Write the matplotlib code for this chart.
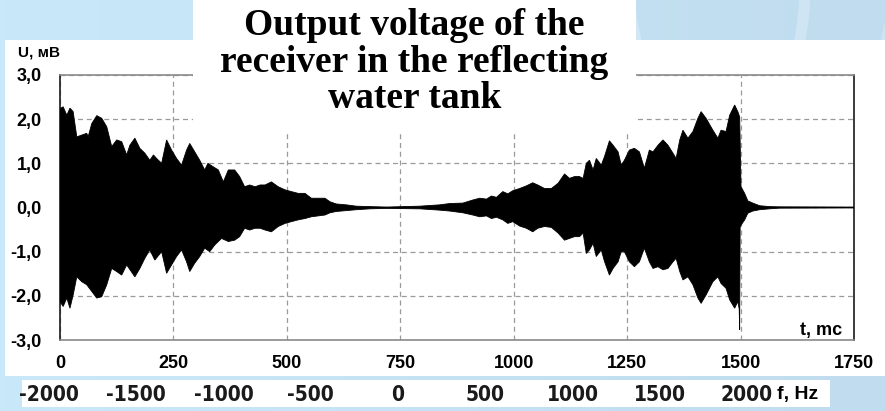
import numpy as np
import matplotlib
matplotlib.use("Agg")
import matplotlib.pyplot as plt
from matplotlib.patches import Rectangle, Ellipse
from matplotlib import font_manager as fm

# ---------------- data ----------------
t_upper = [0, 7, 15, 22, 29, 37, 48, 59, 62, 70, 81, 92, 103, 114, 125, 136, 147, 154, 165, 176,
           187, 198, 206, 213, 224, 235, 246, 257, 268, 279, 286, 297, 308, 319, 326, 338, 349, 360,
           371, 385, 396, 407, 418, 430, 441, 452, 466, 481, 496, 510, 525, 540, 554, 569, 584, 595,
           609, 631, 653, 683, 720, 793, 837, 859, 888, 910, 925, 940, 951, 962, 976, 987, 998, 1013,
           1028, 1042, 1053, 1068, 1083, 1098, 1112, 1123, 1134, 1145, 1153, 1160, 1167, 1175, 1182,
           1193, 1200, 1211, 1219, 1230, 1237, 1244, 1255, 1266, 1277, 1288, 1299, 1307, 1318, 1329,
           1340, 1351, 1358, 1366, 1373, 1384, 1395, 1406, 1413, 1424, 1439, 1450, 1457, 1468, 1476,
           1487, 1494, 1498, 1501, 1509, 1516, 1527, 1542, 1564, 1586, 1750]
u_upper = [2.24, 2.28, 2.09, 2.25, 2.17, 1.60, 1.64, 1.68, 1.60, 1.90, 2.08, 2.02, 1.83, 1.38, 1.53,
           1.49, 1.19, 1.41, 1.57, 1.34, 1.23, 1.07, 1.19, 1.11, 1.00, 1.53, 1.30, 1.11, 0.96, 1.30,
           1.45, 1.26, 1.07, 0.85, 1.00, 0.92, 0.85, 0.58, 0.85, 0.85, 0.70, 0.47, 0.51, 0.47, 0.51,
           0.51, 0.58, 0.47, 0.40, 0.36, 0.32, 0.32, 0.21, 0.21, 0.21, 0.13, 0.08, 0.06, 0.03, 0.02,
           0.01, 0.03, 0.06, 0.09, 0.10, 0.17, 0.21, 0.19, 0.26, 0.23, 0.36, 0.31, 0.38, 0.43, 0.49,
           0.56, 0.51, 0.43, 0.43, 0.55, 0.76, 0.66, 0.70, 0.70, 0.66, 1.00, 1.07, 0.85, 1.11, 0.96,
           1.15, 1.51, 1.41, 1.26, 0.96, 1.07, 1.30, 1.34, 1.26, 0.89, 1.30, 1.26, 1.41, 1.53, 1.41,
           1.23, 1.11, 1.53, 1.75, 1.57, 1.72, 2.02, 2.17, 2.02, 1.75, 1.57, 1.75, 1.72, 2.09, 2.32,
           2.17, 2.05, 0.47, 0.32, 0.15, 0.10, 0.04, 0.02, 0.015, 0.01]

t_lower = [0, 7, 15, 22, 29, 37, 48, 59, 70, 81, 92, 103, 114, 125, 136, 147, 165, 176, 187, 198,
           209, 224, 235, 246, 257, 268, 279, 286, 297, 308, 319, 330, 341, 356, 371, 385, 396, 407,
           418, 430, 441, 452, 466, 481, 496, 510, 525, 540, 554, 569, 584, 595, 609, 631, 653, 683,
           720, 793, 837, 859, 888, 910, 925, 940, 951, 962, 976, 987, 998, 1013, 1028, 1042, 1053,
           1068, 1083, 1098, 1112, 1123, 1134, 1145, 1153, 1160, 1167, 1175, 1182, 1193, 1200, 1211,
           1219, 1230, 1237, 1244, 1255, 1266, 1277, 1288, 1299, 1307, 1318, 1329, 1340, 1351, 1358,
           1366, 1373, 1384, 1395, 1406, 1413, 1424, 1439, 1450, 1457, 1468, 1476, 1487, 1494, 1497,
           1498, 1499, 1501, 1509, 1516, 1527, 1542, 1564, 1586, 1750]
u_lower = [-2.13, -2.24, -2.05, -2.28, -1.98, -1.57, -1.68, -1.75, -1.90, -2.05, -2.02, -1.75, -1.38,
           -1.45, -1.53, -1.30, -1.57, -1.38, -1.15, -0.96, -1.19, -1.00, -1.49, -1.30, -1.11, -0.96,
           -1.23, -1.45, -1.26, -1.11, -0.92, -1.00, -0.85, -0.70, -0.77, -0.74, -0.66, -0.47, -0.51,
           -0.47, -0.47, -0.51, -0.55, -0.43, -0.36, -0.32, -0.28, -0.25, -0.21, -0.19, -0.17, -0.12,
           -0.09, -0.07, -0.05, -0.03, -0.02, -0.03, -0.06, -0.08, -0.12, -0.17, -0.21, -0.19, -0.25,
           -0.22, -0.28, -0.36, -0.32, -0.42, -0.47, -0.55, -0.47, -0.43, -0.45, -0.58, -0.74, -0.70,
           -0.66, -0.66, -0.58, -1.04, -0.96, -0.81, -1.11, -0.96, -1.22, -1.53, -1.38, -1.23, -1.00,
           -1.00, -1.23, -1.34, -1.23, -0.92, -1.23, -1.38, -1.34, -1.41, -1.38, -1.23, -1.15, -1.45,
           -1.64, -1.57, -1.75, -2.05, -2.17, -1.98, -1.68, -1.57, -1.72, -1.83, -2.09, -2.28, -2.13,
           -2.30, -2.77, -0.45, -0.40, -0.28, -0.13, -0.08, -0.05, -0.03, -0.015, -0.01]

x_ticks = [0, 250, 500, 750, 1000, 1250, 1500, 1750]
x_labels = ["0", "250", "500", "750", "1000", "1250", "1500", "1750"]
y_ticks = [-3, -2, -1, 0, 1, 2, 3]
y_labels = ["-3,0", "-2,0", "-1,0", "0,0", "1,0", "2,0", "3,0"]
f_ticks = [-2000, -1500, -1000, -500, 0, 500, 1000, 1500, 2000]
f_labels = ["-2000", "-1500", "-1000", "-500", "0", "500", "1000", "1500", "2000"]

title_lines = ["Output voltage of the", "receiver in the reflecting", "water tank"]

# ---------------- figure ----------------
W, H = 885, 411
fig = plt.figure(figsize=(W / 100, H / 100), dpi=100)

sans = "Liberation Sans"
serif = "Liberation Serif"

# find a condensed / narrow sans font for the frequency labels
narrow_fp = None
for key in ["LiberationSansNarrow-Bold", "DejaVuSansCondensed-Bold", "LiberationSansNarrow-Regular",
            "DejaVuSansCondensed.ttf", "Condensed", "Narrow"]:
    for f in fm.fontManager.ttflist:
        if key in f.fname and "Oblique" not in f.fname and "Italic" not in f.fname:
            narrow_fp = f.fname
            break
    if narrow_fp:
        break


def fx(px):
    return px / W


def fy(py):
    return 1 - py / H


# background gradient
bg = fig.add_axes([0, 0, 1, 1], zorder=-5)
bg.set_axis_off()
c1 = np.array([201, 233, 250]) / 255
c2 = np.array([192, 220, 238]) / 255
g = np.linspace(0, 1, 256)
img = c1[None, None, :] * (1 - g[None, :, None]) + c2[None, None, :] * g[None, :, None]
img = np.repeat(img, 2, axis=0)
bg.imshow(img, aspect="auto", extent=[0, 1, 0, 1])
bg.set_xlim(0, 1)
bg.set_ylim(0, 1)
for cx, w_ in [(0.80, 0.22), (0.86, 0.30)]:
    bg.add_patch(Ellipse((cx, 1.05), w_, 0.9, fill=False, edgecolor="white", alpha=0.25,
                         linewidth=8))

# white panel and strip
fig.add_artist(Rectangle((fx(5), fy(376)), fx(880), 336 / H, transform=fig.transFigure,
                         facecolor="white", edgecolor="none", zorder=-1))
fig.add_artist(Rectangle((fx(22), fy(407)), fx(808), 27 / H, transform=fig.transFigure,
                         facecolor="white", edgecolor="none", zorder=-1))

# main axes
ax = fig.add_axes([fx(60), fy(340), fx(794), 265 / H])
ax.set_facecolor("white")
ax.fill(list(t_upper) + list(t_lower[::-1]), list(u_upper) + list(u_lower[::-1]),
        facecolor="black", edgecolor="black", linewidth=0.6, zorder=3)
ax.set_xlim(0, 1750)
ax.set_ylim(-3, 3)
ax.set_xticks(x_ticks)
ax.set_xticklabels(x_labels)
ax.set_yticks(y_ticks)
ax.set_yticklabels(y_labels)
ax.tick_params(length=0)
ax.tick_params(axis="y", pad=13)
ax.tick_params(axis="x", pad=11)
for lab in ax.get_xticklabels() + ax.get_yticklabels():
    lab.set_fontfamily(sans)
    lab.set_fontweight("bold")
    lab.set_fontsize(13)
ax.grid(True, linestyle=(0, (4, 3)), color="#9a9a9a", linewidth=0.9)
ax.set_axisbelow(True)
for s in ["left", "right"]:
    ax.spines[s].set_color("#1a1a1a")
    ax.spines[s].set_linewidth(1.2)
for s in ["top", "bottom"]:
    ax.spines[s].set_color("#8a8a8a")
    ax.spines[s].set_linewidth(1.2)

ax.text((842 - 60) / 794, (340 - 335) / 265, "t, mc", transform=ax.transAxes, ha="right",
        va="baseline", fontsize=13, fontweight="bold", family=sans, zorder=5)
fig.text(fx(18), fy(52), "U, мВ", ha="left", va="center", fontsize=11, fontweight="bold",
         family=sans)

# frequency strip
fa = fig.add_axes([fx(22), fy(407), fx(808), 27 / H])
fa.set_axis_off()
f0 = -2000 - (49 - 22) / 87.25 * 500
f1 = -2000 + (830 - 49) / 87.25 * 500
fa.set_xlim(f0, f1)
fa.set_ylim(0, 1)
for f, lab in zip(f_ticks, f_labels):
    if narrow_fp:
        fp = fm.FontProperties(fname=narrow_fp, size=15)
    else:
        fp = fm.FontProperties(family=sans, size=14)
    fa.text(f, 0.45, lab, ha="center", va="center", fontproperties=fp, color="#1a1a1a")
fig.text(fx(777), fy(394), "f, Hz", ha="left", va="center", fontsize=14, fontweight="bold",
         family=sans)

# title box
fig.add_artist(Rectangle((fx(193), fy(132)), fx(443), 132 / H, transform=fig.transFigure,
                         facecolor="white", edgecolor="none", zorder=10))
for i, line in enumerate(title_lines):
    fig.text(fx(414.5), fy(35 + 36.5 * i), line, ha="center", va="baseline", fontsize=27,
             fontweight="bold", family=serif, zorder=11)

fig.savefig("out.png", dpi=100)
